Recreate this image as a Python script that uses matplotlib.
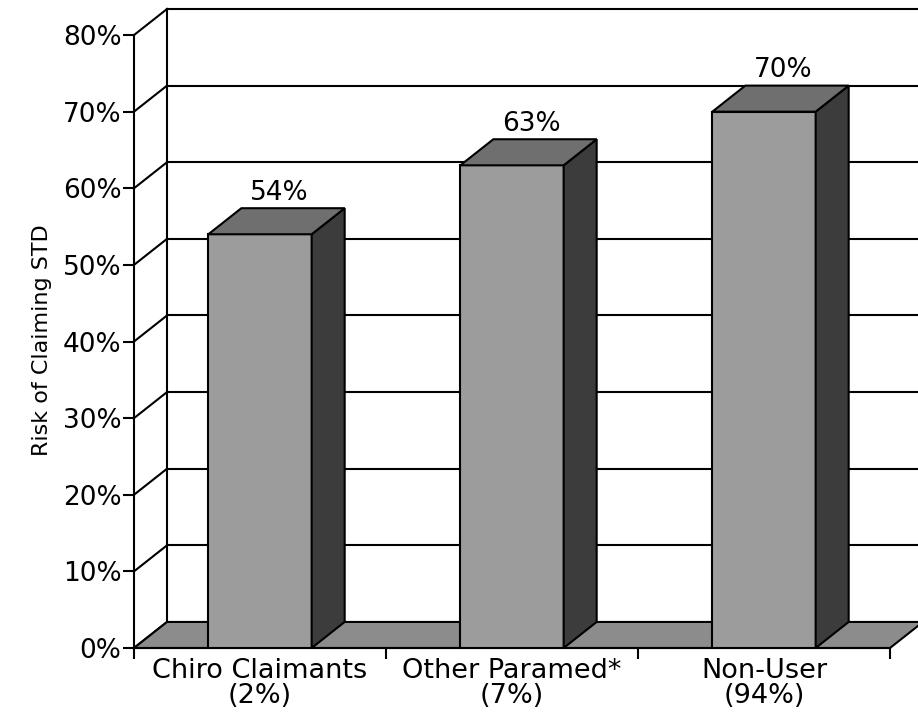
import matplotlib.pyplot as plt
from matplotlib.patches import Polygon

categories = ["Chiro Claimants", "Other Paramed*", "Non-User"]
shares = ["(2%)", "(7%)", "(94%)"]
risk = [54, 63, 70]
yticks = list(range(0, 81, 10))

# depth of the fake 3d box, in category units / percent units
DX, DY = 0.131, 3.4
W = 0.41

FRONT = "#9c9c9c"
TOP = "#6f6f6f"
SIDE = "#3c3c3c"
FLOOR = "#8c8c8c"

plt.rcParams['font.family'] = ['DejaVu Sans']

fig = plt.figure(figsize=(9.18, 7.27), dpi=100)
ax = fig.add_axes([134 / 918, 79 / 727, 784 / 918, 639 / 727])
ax.set_xlim(-0.5, -0.5 + 784 / 252)
ax.set_ylim(0, 80 + DY)

lw = 1.5
# walls and grid
ax.plot([-0.5 + DX] * 2, [DY, 80 + DY], color="black", lw=lw, zorder=1, clip_on=False)
for v in yticks:
    ax.plot([-0.5, -0.5 + DX], [v, v + DY], color="black", lw=lw, zorder=1, clip_on=False)
    if v > 0:
        ax.plot([-0.5 + DX, 2.5 + DX], [v + DY, v + DY], color="black", lw=lw,
                zorder=1, clip_on=False)

# floor
ax.add_patch(Polygon([(-0.5, 0), (2.5, 0), (2.5 + DX, DY), (-0.5 + DX, DY)],
                     closed=True, facecolor=FLOOR, edgecolor="black", lw=lw, zorder=2,
                     clip_on=False))

# bars
for i, v in enumerate(risk):
    x0, x1 = i - W / 2, i + W / 2
    ax.add_patch(Polygon([(x0, 0), (x1, 0), (x1, v), (x0, v)],
                         closed=True, facecolor=FRONT, edgecolor="black", lw=lw, zorder=3))
    ax.add_patch(Polygon([(x1, 0), (x1 + DX, DY), (x1 + DX, v + DY), (x1, v)],
                         closed=True, facecolor=SIDE, edgecolor="black", lw=lw, zorder=3))
    ax.add_patch(Polygon([(x0, v), (x1, v), (x1 + DX, v + DY), (x0 + DX, v + DY)],
                         closed=True, facecolor=TOP, edgecolor="black", lw=lw, zorder=3))
    ax.text(i + DX / 2 + 0.01, v + DY + 0.3, f"{v}%", ha="center", va="bottom", fontsize=19)

for s in ["top", "right"]:
    ax.spines[s].set_visible(False)
ax.spines["left"].set_bounds(0, 80)
ax.spines["bottom"].set_bounds(-0.5, 2.5)
ax.spines["left"].set_linewidth(lw)
ax.spines["bottom"].set_linewidth(lw)

ax.set_yticks(yticks)
ax.set_yticklabels([f"{v}%" for v in yticks], fontsize=19)
ax.tick_params(axis="y", direction="out", length=8, width=lw, pad=1)

ax.set_xticks([-0.5, 0.5, 1.5, 2.5])
ax.set_xticklabels([])
ax.tick_params(axis="x", which="major", direction="out", length=8, width=lw)
ax.set_xticks([0, 1, 2], minor=True)
ax.set_xticklabels([f"{c}\n{s}" for c, s in zip(categories, shares)], minor=True,
                   fontsize=19.5, linespacing=0.95)
ax.tick_params(axis="x", which="minor", length=0, pad=7)

fig.text(42 / 918, 1 - 340 / 727, "Risk of Claiming STD", rotation=90,
         ha="center", va="center", fontsize=16)

fig.savefig("out.png", dpi=100)
